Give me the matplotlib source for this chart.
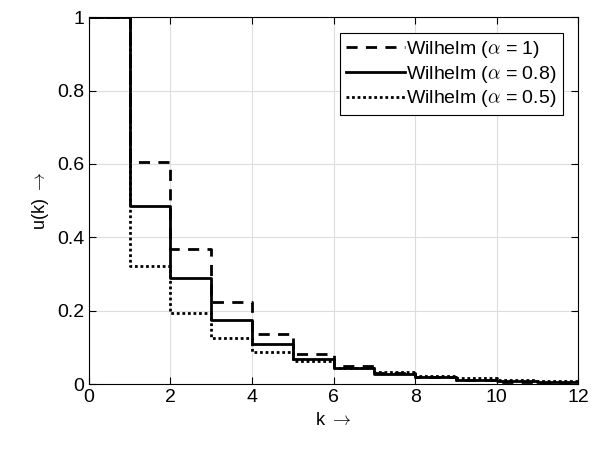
import numpy as np
import matplotlib.pyplot as plt

plt.rcParams['font.family'] = ['Liberation Sans', 'DejaVu Sans']
plt.rcParams['mathtext.fontset'] = 'cm'

k = np.arange(0, 13)
u_a1 = [1, 0.605, 0.367, 0.223, 0.136, 0.082, 0.050, 0.030, 0.018, 0.011, 0.007, 0.004, 0.004]
u_a08 = [1, 0.486, 0.289, 0.176, 0.109, 0.068, 0.044, 0.028, 0.018, 0.012, 0.008, 0.005, 0.005]
u_a05 = [1, 0.321, 0.193, 0.126, 0.088, 0.062, 0.044, 0.032, 0.022, 0.016, 0.012, 0.009, 0.009]

fig = plt.figure(figsize=(5.93, 4.54), dpi=100)
ax = fig.add_axes([0.150, 0.154, 0.825, 0.808])

ax.step(k, u_a1, where='post', color='k', lw=2, ls=(0, (4, 3)), label=r'Wilhelm ($\alpha$ = 1)')
ax.step(k, u_a08, where='post', color='k', lw=2, ls='-', label=r'Wilhelm ($\alpha$ = 0.8)')
ax.step(k, u_a05, where='post', color='k', lw=2, ls=(0, (1, 1)), label=r'Wilhelm ($\alpha$ = 0.5)')

ax.set_xlim(0, 12)
ax.set_ylim(0, 1)
ax.set_xticks(np.arange(0, 13, 2))
ax.set_yticks([0, 0.2, 0.4, 0.6, 0.8, 1])
ax.set_yticklabels(['0', '0.2', '0.4', '0.6', '0.8', '1'])
ax.tick_params(direction='in', top=True, right=True, labelsize=14, length=5, width=0.8)
ax.grid(True, color='#dddddd', lw=0.8)
ax.set_axisbelow(True)
for s in ax.spines.values():
    s.set_linewidth(0.8)

ax.set_xlabel(r'k $\rightarrow$', fontsize=13)
ax.set_ylabel(r'u(k) $\rightarrow$', fontsize=13)

leg = ax.legend(loc='upper right', fontsize=14, handlelength=3.0, handletextpad=0.1,
                borderpad=0.3, labelspacing=0.2, fancybox=False, framealpha=1,
                edgecolor='k', borderaxespad=0.8)
leg.get_frame().set_linewidth(0.8)

fig.savefig('out.png', dpi=100)
